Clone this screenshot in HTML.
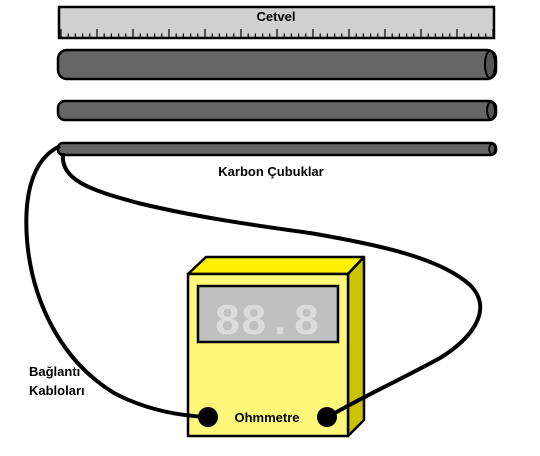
<!DOCTYPE html>
<html><head><meta charset="utf-8"><style>
html,body{margin:0;padding:0;background:#fff;}
svg{display:block;font-family:"Liberation Sans",sans-serif;font-weight:bold;}
</style></head><body>
<svg width="540" height="456" viewBox="0 0 540 456">
  <g>
    <rect x="59" y="7" width="435" height="31" fill="#d0d0d0" stroke="#000" stroke-width="2.5"/>
    <g id="ticks" stroke="#000" stroke-width="1.2"></g>
    <text x="276" y="21" font-size="13" text-anchor="middle" fill="#000">Cetvel</text>
  </g>
  <g>
    <rect x="58" y="50" width="438" height="29" rx="9" fill="#666" stroke="#000" stroke-width="2.5"/>
    <ellipse cx="490" cy="64.5" rx="5" ry="13.5" fill="#555" stroke="#000" stroke-width="2"/>
  </g>
  <g>
    <rect x="58" y="101" width="438" height="19" rx="7" fill="#666" stroke="#000" stroke-width="2.5"/>
    <ellipse cx="491" cy="110.5" rx="4" ry="8.5" fill="#555" stroke="#000" stroke-width="2"/>
  </g>
  <g>
    <rect x="58" y="143" width="438" height="12" rx="5" fill="#666" stroke="#000" stroke-width="2.5"/>
    <ellipse cx="492" cy="149" rx="3" ry="5" fill="#555" stroke="#000" stroke-width="1.5"/>
  </g>
  <text x="271" y="176" font-size="13" text-anchor="middle">Karbon Çubuklar</text>
  <text x="29" y="376" font-size="13">Bağlantı</text>
  <text x="29" y="395" font-size="13">Kabloları</text>
  <g>
    <polygon points="188,274 206,257 364,257 348,274" fill="#fff200" stroke="#000" stroke-width="2.5" stroke-linejoin="round"/>
    <polygon points="348,274 364,257 364,420 348,436" fill="#ccc400" stroke="#000" stroke-width="2.5" stroke-linejoin="round"/>
    <rect x="188" y="274" width="160" height="162" fill="#fff77a" stroke="#000" stroke-width="2.5"/>
    <rect x="198" y="286" width="140" height="56" fill="#c0c0c0" stroke="#000" stroke-width="2.5"/>
    <text x="267" y="334" font-size="44" text-anchor="middle" fill="#dcdcdc" font-family="Liberation Mono">88.8</text>
    <text x="267" y="422" font-size="13" text-anchor="middle">Ohmmetre</text>
  </g>
  <path d="M60,146 C30,160 24,200 27,240 C32,300 60,360 114,393 C150,412 185,416 207,417" fill="none" stroke="#000" stroke-width="4"/>
  <path d="M63,153 C60,180 90,190 138,203 C200,218 260,226 310,233 C380,245 440,258 470,285 C495,310 470,340 440,358 C400,380 360,398 328,417" fill="none" stroke="#000" stroke-width="4"/>
  <circle cx="208" cy="417" r="10" fill="#000"/>
  <circle cx="327" cy="417" r="10" fill="#000"/>
</svg>
<script>
const g=document.getElementById('ticks');
let s='';
for(let i=0;i<=60;i++){const x=61+i*7.2;if(x>493)break;const h=(i%5===0)?8:3.5;s+=`<line x1="${x}" y1="${37-h}" x2="${x}" y2="37"/>`;}
g.innerHTML=s;
</script>
</body></html>
